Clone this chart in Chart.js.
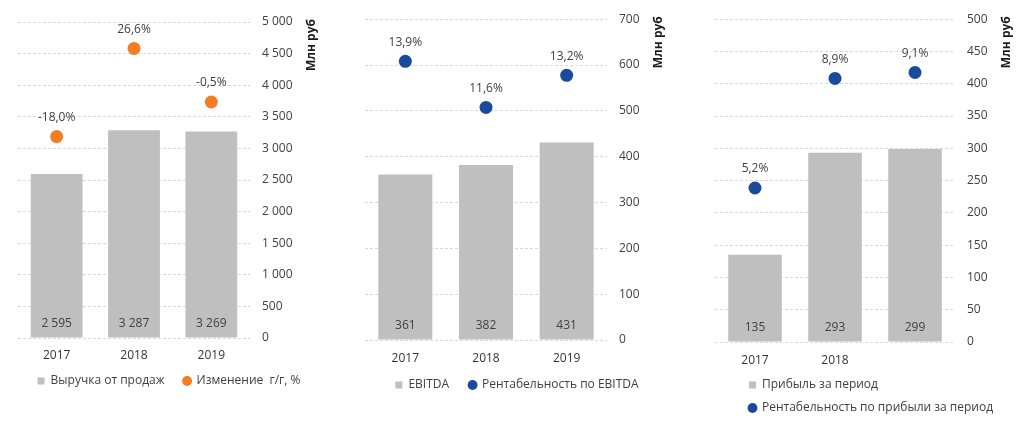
<!DOCTYPE html>
<html lang="ru">
<head>
<meta charset="UTF-8">
<title>Выручка, EBITDA, прибыль</title>
<script src="https://cdn.jsdelivr.net/npm/chart.js"></script>
<style>
    html, body { margin: 0; padding: 0; background: #fff; }
    .wrap { position: relative; width: 1024px; height: 431px; overflow: hidden; }
    .box { position: absolute; top: 0; height: 431px; }
</style>
</head>
<body>
<div class="wrap">
    <div class="box" style="left:0;width:336px"><canvas id="c1"></canvas></div>
    <div class="box" style="left:340px;width:329px"><canvas id="c2"></canvas></div>
    <div class="box" style="left:680px;width:344px"><canvas id="c3"></canvas></div>
</div>
<script>
// данные
const years = ['2017', '2018', '2019'];
const years3 = ['2017', '2018', ''];   // на третьем графике подпись 2019 отсутствует
const revenue = [2595, 3287, 3269];
const revenueChange = [-18.0, 26.6, -0.5];
const ebitda = [361, 382, 431];
const ebitdaMargin = [13.9, 11.6, 13.2];
const profit = [135, 293, 299];
const profitMargin = [5.2, 8.9, 9.1];

const GREY = '#BFBFBF';
const ORANGE = '#F47D23';
const BLUE = '#1B4A9C';
const TEXT = '#404040';

Chart.defaults.font.family = '"Open Sans", sans-serif';
Chart.defaults.font.size = 12;
Chart.defaults.color = TEXT;
Chart.defaults.animation = false;

function fmtNum(v) {
    return String(v).replace(/\B(?=(\d{3})+(?!\d))/g, ' ');
}
function fmtPct(v) {
    return v.toFixed(1).replace('.', ',') + '%';
}

// подписи значений: у столбцов внизу, у точек сверху
const valueLabels = {
    id: 'valueLabels',
    afterDatasetsDraw(chart) {
        const ctx = chart.ctx;
        ctx.save();
        ctx.font = '12px "Open Sans"';
        ctx.fillStyle = TEXT;
        ctx.textAlign = 'center';
        ctx.textBaseline = 'middle';
        chart.data.datasets.forEach((ds, i) => {
            chart.getDatasetMeta(i).data.forEach((el, j) => {
                const v = ds.data[j];
                if (ds.type === 'bar') ctx.fillText(fmtNum(v), el.x, el.base - 13.5);
                else ctx.fillText(fmtPct(v), el.x, el.y - 19);
            });
        });
        ctx.restore();
    }
};

// "Млн руб" справа от оси, снизу вверх
const unitTitle = {
    id: 'unitTitle',
    afterDraw(chart) {
        const s = chart.scales.y;
        const ctx = chart.ctx;
        ctx.save();
        ctx.font = '12px "Open Sans"';
        let w = 0;
        s.ticks.forEach(t => { w = Math.max(w, ctx.measureText(t.label).width); });
        const x = s.left + 12 + w + 19;
        ctx.translate(x, chart.chartArea.top - 3);
        ctx.rotate(-Math.PI / 2);
        ctx.font = 'bold 12px "Open Sans"';
        ctx.fillStyle = '#1a1a1a';
        ctx.textAlign = 'right';
        ctx.textBaseline = 'middle';
        ctx.fillText('Млн руб', 0, 0);
        ctx.restore();
    }
};

// сдвиг легенды (строки легенды не совпадают с сеткой Chart.js)
const legendShift = {
    id: 'legendShift',
    afterLayout(chart, args, opts) {
        const lg = chart.legend;
        lg.left += opts.dx || 0;
        lg.right += opts.dx || 0;
        lg.top += opts.dy || 0;
        lg.bottom += opts.dy || 0;
    }
};

function makeChart(id, cfg) {
    return new Chart(document.getElementById(id), {
        type: 'bar',
        data: {
            labels: cfg.labels,
            datasets: [{
                type: 'bar',
                label: cfg.barLabel,
                data: cfg.bars,
                backgroundColor: GREY,
                pointStyle: 'rect',
                categoryPercentage: 1,
                barPercentage: 0.67,
                yAxisID: 'y'
            }, {
                type: 'line',
                label: cfg.dotLabel,
                data: cfg.dots,
                showLine: false,
                backgroundColor: cfg.dotColor,
                borderColor: cfg.dotColor,
                borderWidth: 0,
                pointStyle: 'circle',
                pointRadius: 6.5,
                pointBorderWidth: 0,
                yAxisID: 'y2'
            }]
        },
        options: {
            responsive: true,
            maintainAspectRatio: false,
            layout: { padding: cfg.padding },
            scales: {
                x: {
                    grid: { display: false, drawTicks: false },
                    border: { display: false },
                    ticks: { padding: cfg.xPad, color: '#333' },
                    afterFit: s => { s.height = cfg.xPad + 15; }
                },
                y: {
                    position: 'right',
                    min: 0,
                    max: cfg.yMax,
                    grid: { color: '#D9D9D9', drawTicks: false },
                    border: { display: false, dash: [3, 2] },
                    ticks: { stepSize: cfg.yStep, padding: 12, callback: v => fmtNum(v) },
                    afterFit: s => { s.width = cfg.yWidth; }
                },
                y2: { display: false, min: cfg.y2[0], max: cfg.y2[1] }
            },
            plugins: {
                tooltip: { enabled: false },
                legend: {
                    position: 'bottom',
                    align: cfg.legendAlign,
                    labels: {
                        usePointStyle: true,
                        boxWidth: 7,
                        boxHeight: 7,
                        padding: cfg.legendPad,
                        color: TEXT,
                        font: { size: 12 }
                    }
                },
                legendShift: { dx: cfg.legendDx || 0, dy: cfg.legendDy || 0 }
            }
        },
        plugins: [valueLabels, unitTitle, legendShift]
    });
}

makeChart('c1', {
    labels: years, bars: revenue, dots: revenueChange,
    barLabel: 'Выручка от продаж', dotLabel: 'Изменение  г/г, %', dotColor: ORANGE,
    yMax: 5000, yStep: 500, y2: [-120, 40],
    padding: { left: 18, right: 16, top: 22, bottom: 27 },
    yWidth: 70, xPad: 10, legendPad: 19, legendAlign: 'center', legendDy: -7
});

makeChart('c2', {
    labels: years, bars: ebitda, dots: ebitdaMargin,
    barLabel: 'EBITDA', dotLabel: 'Рентабельность по EBITDA', dotColor: BLUE,
    yMax: 700, yStep: 100, y2: [0, 16],
    padding: { left: 25, right: 0, top: 19, bottom: 23 },
    yWidth: 62, xPad: 11, legendPad: 20, legendAlign: 'center', legendDy: -7
});

makeChart('c3', {
    labels: years3, bars: profit, dots: profitMargin,
    barLabel: 'Прибыль за период', dotLabel: 'Рентабельность по прибыли за период', dotColor: BLUE,
    yMax: 500, yStep: 50, y2: [0, 10.9],
    padding: { left: 35, right: 7, top: 16, bottom: 7 },
    yWidth: 62, xPad: 11, legendPad: 11, legendAlign: 'start', legendDx: 23
});
</script>
</body>
</html>
